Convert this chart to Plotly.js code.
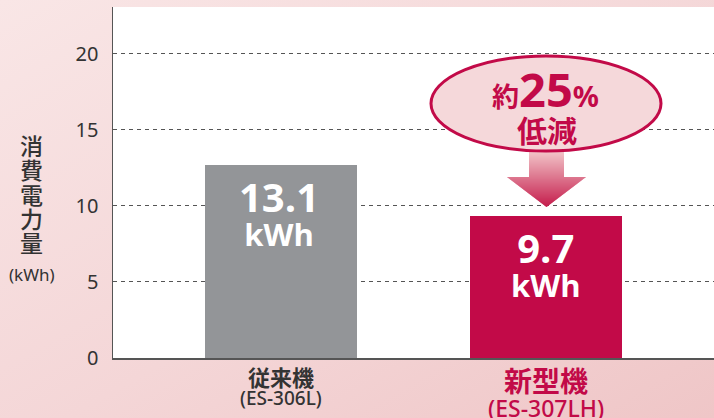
<!DOCTYPE html>
<html>
<head>
<meta charset="utf-8">
<script src="https://cdn.plot.ly/plotly-3.0.1.min.js"></script>
<style>
  html, body { margin: 0; padding: 0; }
  body { width: 714px; height: 418px; overflow: hidden;
         background: linear-gradient(150deg, #f9e6e6 0%, #f4d6d7 55%, #efc6c7 100%); }
  #chart { width: 714px; height: 418px; }
</style>
</head>
<body>
<div id="chart"></div>
<script>
// ---- data ----
const categories = ['従来機', '新型機'];
const models = ['(ES-306L)', '(ES-307LH)'];
const values = [12.7, 9.3];          // bar heights as drawn
const valueLabels = ['13.1', '9.7'];  // printed values
const unitLabel = 'kWh';
const yTicks = [0, 5, 10, 15, 20];
const yTitleChars = ['消', '費', '電', '力', '量'];
const yUnit = '(kWh)';
const calloutLine1 = ['約', '25', '%'];
const calloutLine2 = '低減';

// ---- geometry helpers (pixel -> paper) ----
const L = 113, R = 714, T = 7, B = 358;
const PX = p => (p - L) / (R - L);
const PY = p => (B - p) / (B - T);

const CRIMSON = '#c20a48';
const DARK = '#333333';
const LATIN = 'Noto Sans, Open Sans, Noto Sans CJK JP, sans-serif';
const CJK = 'Noto Sans CJK JP, Noto Sans, sans-serif';
const NUM = 'Open Sans, Noto Sans, sans-serif';

const xs = categories.map((c, i) => i);

const trace = {
  type: 'bar',
  x: xs,
  y: values,
  width: 0.574,
  marker: { color: ['#939598', CRIMSON], line: { width: 0 } },
  hoverinfo: 'skip'
};

const annotations = [];

// value labels inside bars (number + unit in one block)
xs.forEach((x, i) => {
  annotations.push({
    x: x, y: values[i], xref: 'x', yref: 'y',
    text: '<b><span style="font-size:40px">' + valueLabels[i] + '</span><br>' +
          '<span style="font-size:31px">' + unitLabel + '</span></b>',
    showarrow: false,
    yanchor: 'middle', xanchor: 'center', yshift: -47, xshift: i === 0 ? -2 : 0,
    font: { family: NUM, size: 26, color: '#ffffff' }
  });
});

// category labels below axis
const catStyle = [
  { size: 22, color: DARK, y: 376 },
  { size: 28, color: CRIMSON, y: 380 }
];
const modelStyle = [
  { size: 19, color: DARK, y: 398 },
  { size: 23, color: CRIMSON, y: 408 }
];
xs.forEach((x, i) => {
  annotations.push({
    x: x, xref: 'x', y: PY(catStyle[i].y), yref: 'paper',
    text: '<b>' + categories[i] + '</b>', showarrow: false,
    xanchor: 'center', yanchor: 'middle',
    font: { family: CJK, size: catStyle[i].size, color: catStyle[i].color }
  });
  annotations.push({
    x: x, xref: 'x', y: PY(modelStyle[i].y), yref: 'paper',
    text: models[i], showarrow: false,
    xanchor: 'center', yanchor: 'middle',
    font: { family: LATIN, size: modelStyle[i].size, color: modelStyle[i].color, weight: 500 }
  });
});

// vertical y-axis title (one stacked block)
annotations.push({
  x: PX(31.5), xref: 'paper', y: PY(194), yref: 'paper',
  text: yTitleChars.map(ch => '<span style="font-size:23px">' + ch + '</span>').join('<br>'),
  showarrow: false, xanchor: 'center', yanchor: 'middle',
  font: { family: CJK, size: 18.7, color: DARK, weight: 500 }
});
annotations.push({
  x: PX(32), xref: 'paper', y: PY(274), yref: 'paper',
  text: yUnit, showarrow: false, xanchor: 'center', yanchor: 'middle',
  font: { family: LATIN, size: 17, color: DARK }
});

// callout text
annotations.push({
  x: PX(545), xref: 'paper', y: PY(89), yref: 'paper',
  text: '<b><span style="font-size:27px">' + calloutLine1[0] + '</span>' +
        '<span style="font-size:47px">' + calloutLine1[1] + '</span>' +
        '<span style="font-size:29px">' + calloutLine1[2] + '</span></b>',
  showarrow: false, xanchor: 'center', yanchor: 'middle',
  font: { family: LATIN, size: 30, color: CRIMSON }
});
annotations.push({
  x: PX(547), xref: 'paper', y: PY(129), yref: 'paper',
  text: '<b>' + calloutLine2 + '</b>', showarrow: false,
  xanchor: 'center', yanchor: 'middle',
  font: { family: CJK, size: 30, color: CRIMSON }
});

// ---- shapes: gradient arrow + ellipse ----
const shapes = [];
function lerpColor(a, b, t) {
  const pa = [1,3,5].map(k => parseInt(a.substr(k,2),16));
  const pb = [1,3,5].map(k => parseInt(b.substr(k,2),16));
  const c = pa.map((v, k) => Math.round(v + (pb[k]-v)*t));
  return 'rgb(' + c.join(',') + ')';
}
const aTop = 150, neck = 177, tip = 207, cx = 546.5;
const shaftHalf = 17.5, headHalf = 39.5;
const topCol = '#f3c8cb', botCol = '#c41a4a';
function halfW(y) {
  if (y <= neck) return shaftHalf;
  return headHalf * (tip - y) / (tip - neck);
}
const step = 1;
for (let y = aTop; y < tip; y += step) {
  const y1 = Math.min(y + step + 0.6, tip);
  const t = (y - aTop) / (tip - aTop);
  const col = lerpColor(topCol, botCol, t);
  let path;
  if (y < neck && y1 > neck) {
    path = `M${PX(cx-shaftHalf)},${PY(y)} L${PX(cx+shaftHalf)},${PY(y)} L${PX(cx+shaftHalf)},${PY(neck)} L${PX(cx+headHalf)},${PY(neck)} L${PX(cx+halfW(y1))},${PY(y1)} L${PX(cx-halfW(y1))},${PY(y1)} L${PX(cx-headHalf)},${PY(neck)} L${PX(cx-shaftHalf)},${PY(neck)} Z`;
  } else {
    const w0 = (y === neck) ? headHalf : halfW(y);
    const w1 = halfW(y1);
    path = `M${PX(cx-w0)},${PY(y)} L${PX(cx+w0)},${PY(y)} L${PX(cx+w1)},${PY(y1)} L${PX(cx-w1)},${PY(y1)} Z`;
  }
  shapes.push({ type: 'path', xref: 'paper', yref: 'paper', path: path,
                fillcolor: col, line: { width: 0 }, layer: 'above' });
}
shapes.push({
  type: 'circle', xref: 'paper', yref: 'paper',
  x0: PX(431), x1: PX(661), y0: PY(151), y1: PY(56),
  fillcolor: '#f5d8da', line: { color: CRIMSON, width: 3 }, layer: 'above'
});

const layout = {
  width: 714, height: 418,
  margin: { l: L, r: 0, t: T, b: 418 - B, pad: 0 },
  paper_bgcolor: 'rgba(0,0,0,0)',
  plot_bgcolor: '#ffffff',
  showlegend: false,
  bargap: 0,
  xaxis: {
    range: [-0.634, 1.634], showticklabels: false, ticks: '',
    showgrid: false, zeroline: false,
    showline: true, linecolor: '#555555', linewidth: 2, fixedrange: true
  },
  yaxis: {
    range: [0, (B - T) / 15.22], tickvals: yTicks, ticktext: yTicks.map(String),
    ticks: '', ticklabelstandoff: 9,
    tickfont: { family: LATIN, size: 20, color: DARK },
    showgrid: true, gridcolor: '#555555', gridwidth: 1, griddash: '4px,4px',
    zeroline: false, showline: true, linecolor: '#555555', linewidth: 1.5,
    fixedrange: true
  },
  annotations: annotations,
  shapes: shapes
};

Plotly.newPlot('chart', [trace], layout, { staticPlot: true, displayModeBar: false });
</script>
</body>
</html>
